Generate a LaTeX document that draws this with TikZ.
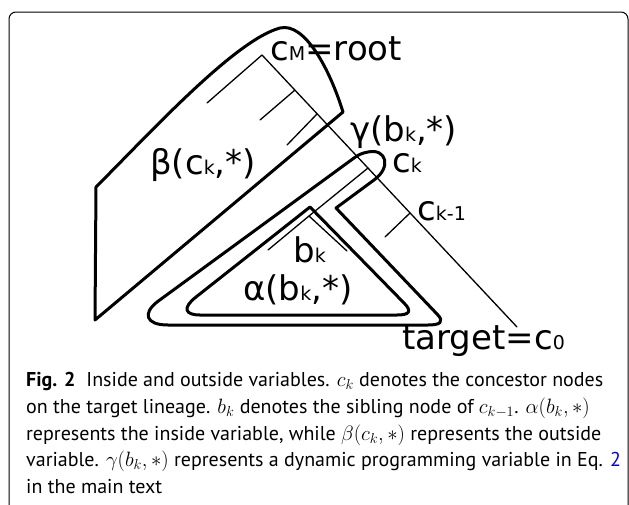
\documentclass[tikz,border=0pt]{standalone}
\usepackage{fontspec}
\setmainfont{PT Sans}
\newfontfamily\djv{DejaVu Sans}
\usepackage{xcolor}
\newcommand\smt[1]{{\fontsize{19}{20}\selectfont #1}}
\begin{document}
\begin{tikzpicture}[x=1pt,y=-1pt,
  treeline/.style={line width=1.3pt,line cap=round},
  outline/.style={line width=3pt,line join=round},
  lbl/.style={anchor=base west,inner sep=0pt,font=\djv\fontsize{34}{40}\selectfont},
  captext/.style={anchor=base west,inner sep=0pt,font=\fontsize{20}{26}\selectfont},
  framebox/.style={line width=1pt,rounded corners=7pt}]
\useasboundingbox (0,0) rectangle (629,504);
% frame
\draw[framebox] (9,620) -- (9,12) -- (628,12) -- (628,620);
% tree
\coordinate (root) at (262,55);
\coordinate (target) at (517,327);
\coordinate (rl) at (207,103);
\coordinate (t1) at (295,90);  \coordinate (t1e) at (260,120);
\coordinate (t2) at (317,114); \coordinate (t2e) at (287,145);
\coordinate (ck) at (368,168);
\coordinate (bk) at (309,216);
\coordinate (bkl) at (268,250); \coordinate (bkr) at (347,251);
\coordinate (ck1) at (410,213); \coordinate (ck1e) at (385,237);
\draw[treeline] (root) -- (target);
\draw[treeline] (root) -- (rl);
\draw[treeline] (t1) -- (t1e);
\draw[treeline] (t2) -- (t2e);
\draw[treeline] (ck) -- (bk);
\draw[treeline] (bk) -- (bkl);
\draw[treeline] (bk) -- (bkr);
\draw[treeline] (ck1) -- (ck1e);
% beta outline
\draw[outline] (95,320) -- (96,187) .. controls (150,133) and (235,40) .. (280,28)
  .. controls (305,22) and (330,70) .. (343,112) -- cycle;
% gamma outline
\draw[outline] (336,208) -- (374,180) .. controls (392,167) and (386,148) .. (368,152)
  .. controls (362,153) and (358,155) .. (354,158) -- (157,302)
  .. controls (143,313) and (145,325) .. (168,325) -- (428,325)
  .. controls (440,325) and (445,322) .. (437,314) -- cycle;
% alpha outline
\draw[outline] (310,207) -- (196,297) .. controls (182,308) and (185,315) .. (200,315)
  -- (397,315) .. controls (410,315) and (412,311) .. (404,303) -- cycle;
% labels
\node[lbl] (lroot) at (270,60) {c\smt{M}=root};
\node[lbl] (lgamma) at (350,141) {γ(b\smt{k},*)};
\node[lbl] (lbeta) at (150,174) {β(c\smt{k},*)};
\node[lbl] (lck) at (392,172) {c\smt{k}};
\node[lbl] (lck1) at (417,220) {c\smt{k-1}};
\node[lbl] (lbk) at (293,262) {b\smt{k}};
\node[lbl] (lalpha) at (243,300) {α(b\smt{k},*)};
\node[lbl] (ltarget) at (402,349) {target=c\smt{0}};
% caption
\node[captext] (cap1) at (26,386) {\textbf{Fig. 2}\hspace{0.55em}Inside and outside variables. $c_k$ denotes the concestor nodes};
\node[captext] (cap2) at (26,413) {on the target lineage. $b_k$ denotes the sibling node of $c_{k-1}$. $\alpha(b_k,\ast)$};
\node[captext] (cap3) at (26,440) {represents the inside variable, while $\beta(c_k,\ast)$ represents the outside};
\node[captext] (cap4) at (26,466) {variable. $\gamma(b_k,\ast)$ represents a dynamic programming variable in Eq. \textcolor{blue}{2}};
\node[captext] (cap5) at (26,493) {in the main text};
\end{tikzpicture}
\end{document}
